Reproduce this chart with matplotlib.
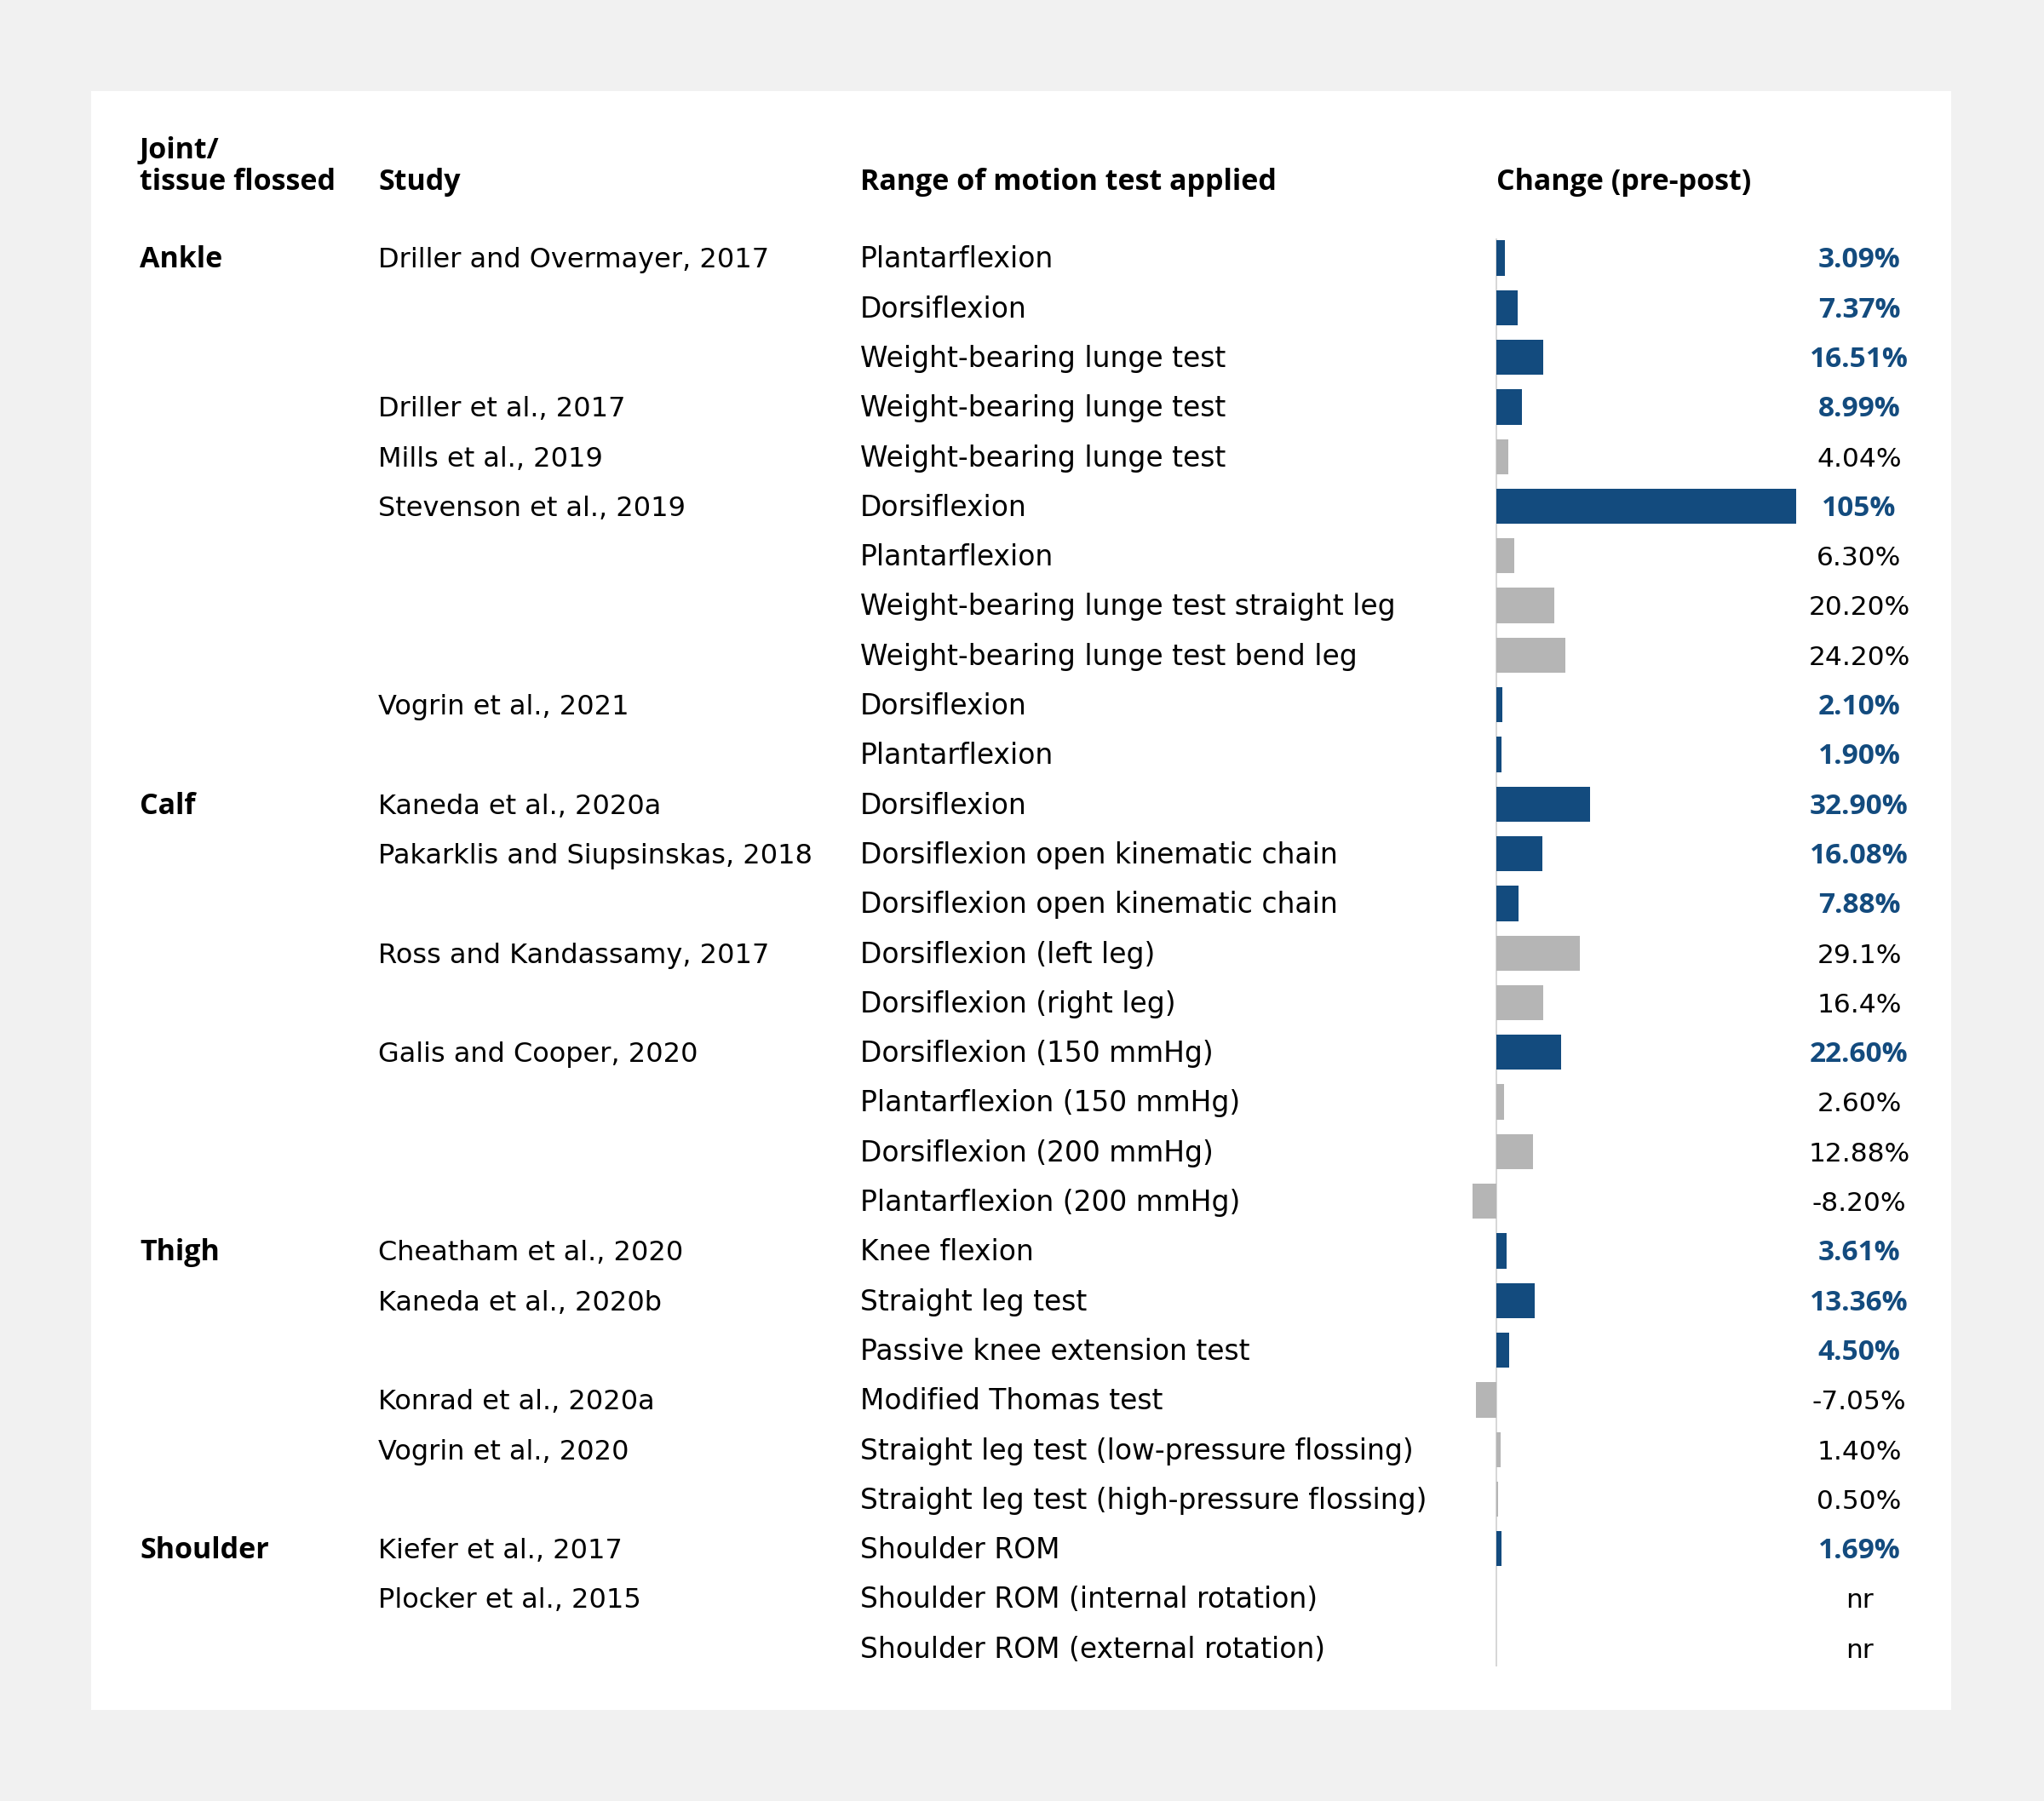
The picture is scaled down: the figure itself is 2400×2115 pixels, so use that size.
import matplotlib
import numpy as np

matplotlib.use("Agg")
import matplotlib.pyplot as plt  # noqa: E402
from matplotlib.patches import Rectangle  # noqa: E402
from matplotlib.transforms import blended_transform_factory  # noqa: E402

joints = ["Ankle", "", "", "", "", "", "", "", "", "", "",
          "Calf", "", "", "", "", "", "", "", "",
          "Thigh", "", "", "", "", "",
          "Shoulder", "", ""]
studies = ["Driller and Overmayer, 2017", "", "", "Driller et al., 2017", "Mills et al., 2019",
           "Stevenson et al., 2019", "", "", "", "Vogrin et al., 2021", "",
           "Kaneda et al., 2020a", "Pakarklis and Siupsinskas, 2018", "", "Ross and Kandassamy, 2017", "",
           "Galis and Cooper, 2020", "", "", "",
           "Cheatham et al., 2020", "Kaneda et al., 2020b", "", "Konrad et al., 2020a", "Vogrin et al., 2020", "",
           "Kiefer et al., 2017", "Plocker et al., 2015", ""]
tests = ["Plantarflexion", "Dorsiflexion", "Weight-bearing lunge test", "Weight-bearing lunge test",
         "Weight-bearing lunge test", "Dorsiflexion", "Plantarflexion",
         "Weight-bearing lunge test straight leg", "Weight-bearing lunge test bend leg",
         "Dorsiflexion", "Plantarflexion",
         "Dorsiflexion", "Dorsiflexion open kinematic chain", "Dorsiflexion open kinematic chain",
         "Dorsiflexion (left leg)", "Dorsiflexion (right leg)", "Dorsiflexion (150 mmHg)",
         "Plantarflexion (150 mmHg)", "Dorsiflexion (200 mmHg)", "Plantarflexion (200 mmHg)",
         "Knee flexion", "Straight leg test", "Passive knee extension test", "Modified Thomas test",
         "Straight leg test (low-pressure flossing)", "Straight leg test (high-pressure flossing)",
         "Shoulder ROM", "Shoulder ROM (internal rotation)", "Shoulder ROM (external rotation)"]
change = [3.09, 7.37, 16.51, 8.99, 4.04, 105, 6.30, 20.20, 24.20, 2.10, 1.90,
          32.90, 16.08, 7.88, 29.1, 16.4, 22.60, 2.60, 12.88, -8.20,
          3.61, 13.36, 4.50, -7.05, 1.40, 0.50,
          1.69, np.nan, np.nan]
change_labels = ["3.09%", "7.37%", "16.51%", "8.99%", "4.04%", "105%", "6.30%", "20.20%", "24.20%",
                 "2.10%", "1.90%", "32.90%", "16.08%", "7.88%", "29.1%", "16.4%", "22.60%", "2.60%",
                 "12.88%", "-8.20%", "3.61%", "13.36%", "4.50%", "-7.05%", "1.40%", "0.50%",
                 "1.69%", "nr", "nr"]
highlight = [True, True, True, True, False, True, False, False, False, True, True,
             True, True, True, False, False, True, False, False, False,
             True, True, True, False, False, False,
             True, False, False]

BLUE = "#134b7e"
GREY = "#b5b5b5"
HEAD_FONT = "Open Sans"
BODY_FONT = "DejaVu Sans"

W, H = 2400, 2115
fig = plt.figure(figsize=(W / 100, H / 100), dpi=100, facecolor="#f1f1f1")
fig.patches.append(Rectangle((107 / W, 1 - 2008 / H), (2291 - 107) / W, (2008 - 107) / H,
                             transform=fig.transFigure, facecolor="white", edgecolor="none", zorder=-10))

# bar column: zero at x=1757px, 3.355 px per percentage point; rows 58.3px apart from y=303px
ax_l, ax_r, ax_t, ax_b = 1700, 2150, 270, 1970
ax = fig.add_axes([ax_l / W, 1 - ax_b / H, (ax_r - ax_l) / W, (ax_b - ax_t) / H])
ax.set_xlim((ax_l - 1757) / 3.355, (ax_r - 1757) / 3.355)
ax.set_ylim((ax_b - 303) / 58.3, (ax_t - 303) / 58.3)
ax.axis("off")

n = len(tests)
rows = np.arange(n)
vals = np.nan_to_num(np.array(change, dtype=float))
colors = [BLUE if h else GREY for h in highlight]
ax.barh(rows, vals, height=0.71, color=colors, zorder=2)
ax.plot([0, 0], [-0.38, n - 1 + 0.36], color="#d6d6d6", lw=1.4, zorder=1)

tr = blended_transform_factory(fig.transFigure, ax.transData)
base = 0.195  # baseline offset so caps sit centred on the row
body = dict(transform=tr, fontsize=22.5, family=BODY_FONT, va="baseline", color="black", clip_on=False)
for i in rows:
    if joints[i]:
        ax.text(164 / W, i + base, joints[i], ha="left", fontweight="bold",
                **{**body, "fontsize": 24.5, "family": HEAD_FONT})
    if studies[i]:
        ax.text(444 / W, i + base, studies[i], ha="left", **{**body, "fontsize": 23})
    ax.text(1010 / W, i + base, tests[i], ha="left", **{**body, "fontsize": 23.7})
    if highlight[i]:
        ax.text(2183 / W, i + base, change_labels[i], ha="center", fontweight="bold",
                **{**body, "color": BLUE, "family": HEAD_FONT, "fontsize": 24})
    else:
        ax.text(2183 / W, i + base, change_labels[i], ha="center", **body)

# column headers
hdr = dict(fontsize=24.5, fontweight="bold", family=HEAD_FONT, va="baseline", ha="left", color="black")
fig.text(164 / W, 1 - 186 / H, "Joint/", **hdr)
fig.text(164 / W, 1 - 223 / H, "tissue flossed", **hdr)
fig.text(444 / W, 1 - 223 / H, "Study", **hdr)
fig.text(1010 / W, 1 - 223 / H, "Range of motion test applied", **hdr)
fig.text(1757 / W, 1 - 223 / H, "Change (pre-post)", **hdr)

fig.savefig("out.png", dpi=100, facecolor=fig.get_facecolor())
